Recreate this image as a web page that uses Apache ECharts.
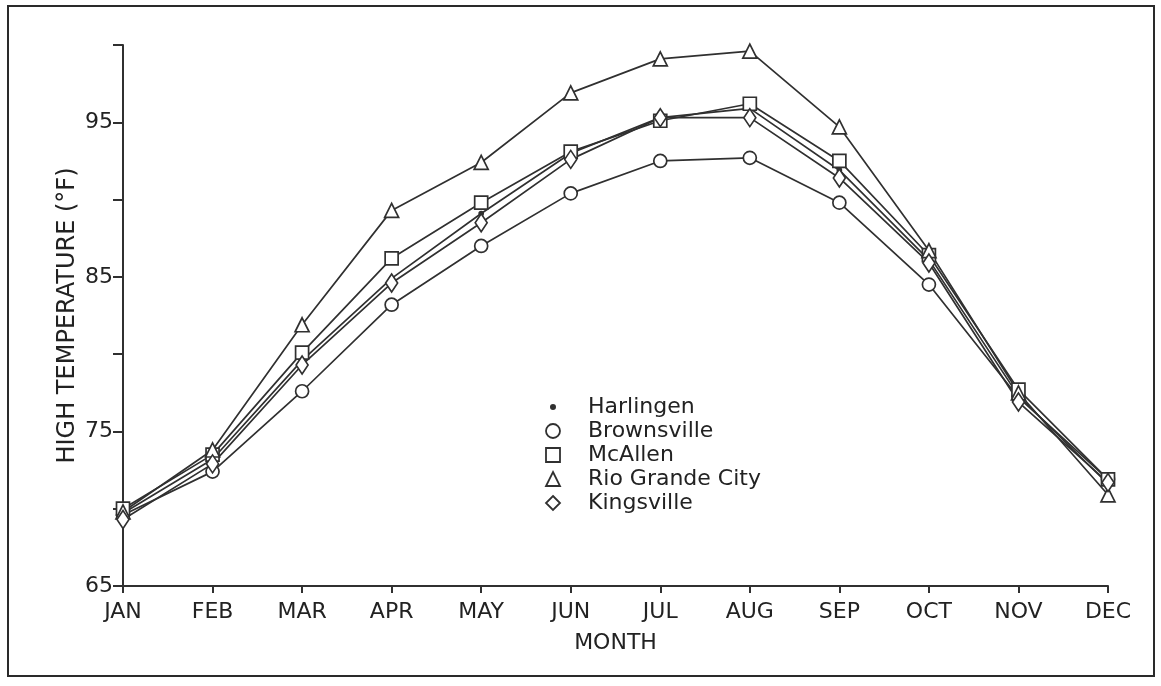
<!DOCTYPE html>
<html>
<head>
<meta charset="utf-8">
<script src="https://cdn.jsdelivr.net/npm/echarts@6/dist/echarts.min.js"></script>
<style>
  html, body { margin: 0; padding: 0; background: #fff; }
  #chart { width: 1161px; height: 686px; }
</style>
</head>
<body>
<div id="chart"></div>
<script>
// Monthly mean high temperatures (°F), South Texas stations
const months = ['JAN', 'FEB', 'MAR', 'APR', 'MAY', 'JUN', 'JUL', 'AUG', 'SEP', 'OCT', 'NOV', 'DEC'];
const harlingen      = [69.7, 73.2, 79.6, 84.9, 89.1, 93.0, 95.3, 95.9, 91.9, 86.1, 77.3, 71.6];
const brownsville    = [69.6, 72.4, 77.6, 83.2, 87.0, 90.4, 92.5, 92.7, 89.8, 84.5, 77.2, 71.9];
const mcallen        = [70.0, 73.5, 80.1, 86.2, 89.8, 93.1, 95.1, 96.2, 92.5, 86.4, 77.7, 71.9];
const rioGrandeCity  = [69.8, 73.8, 81.9, 89.3, 92.4, 96.9, 99.1, 99.6, 94.7, 86.7, 77.5, 70.9];
const kingsville     = [69.3, 72.9, 79.3, 84.6, 88.5, 92.6, 95.3, 95.3, 91.4, 85.9, 76.9, 71.7];
const yTickLabels = [65, 75, 85, 95];

const INK = '#303030';
const TEXT = '#222';
const FONT = '"DejaVu Sans", "Liberation Sans", sans-serif';

function station(name, values, symbol, size, filled) {
  return {
    name: name,
    type: 'line',
    data: values,
    symbol: symbol,
    symbolSize: size,
    showSymbol: true,
    z: 3,
    lineStyle: { color: INK, width: 1.7 },
    itemStyle: { color: filled ? INK : '#fff', borderColor: INK, borderWidth: 1.7 },
    emphasis: { disabled: true }
  };
}

const hollow = { color: '#fff', borderColor: INK, borderWidth: 1.8 };

const chart = echarts.init(document.getElementById('chart'), null, { renderer: 'canvas' });
chart.setOption({
  animation: false,
  backgroundColor: '#fff',
  graphic: [{
    type: 'rect',
    shape: { x: 8, y: 6, width: 1146, height: 670 },
    style: { fill: 'none', stroke: '#2a2a2a', lineWidth: 2 },
    silent: true
  }],
  grid: { left: 123, right: 53, top: 45, bottom: 100 },
  legend: {
    orient: 'vertical',
    left: 537,
    top: 391,
    itemWidth: 14,
    itemHeight: 14,
    itemGap: 2,
    textStyle: { fontFamily: FONT, fontSize: 22, color: TEXT, padding: [0, 0, 0, 23] },
    selectedMode: false,
    data: [
      { name: 'Harlingen', icon: 'circle', itemStyle: { color: INK, borderColor: '#fff', borderWidth: 8 } },
      { name: 'Brownsville', icon: 'circle', itemStyle: hollow },
      { name: 'McAllen', icon: 'rect', itemStyle: hollow },
      { name: 'Rio Grande City', icon: 'triangle', itemStyle: hollow },
      { name: 'Kingsville', icon: 'diamond', itemStyle: hollow }
    ]
  },
  xAxis: {
    type: 'category',
    data: months,
    boundaryGap: false,
    name: 'MONTH',
    nameLocation: 'middle',
    nameGap: 46,
    nameMoveOverlap: false,
    nameTextStyle: { fontFamily: FONT, fontSize: 22, color: TEXT },
    axisLine: { lineStyle: { color: INK, width: 2 } },
    axisTick: { alignWithLabel: true, length: 7, lineStyle: { color: INK, width: 2 } },
    axisLabel: { fontFamily: FONT, fontSize: 22, color: TEXT, margin: 15 },
    splitLine: { show: false }
  },
  yAxis: {
    type: 'value',
    min: 65,
    max: 100,
    interval: 5,
    name: 'HIGH TEMPERATURE (°F)',
    nameLocation: 'middle',
    nameGap: 43,
    nameMoveOverlap: false,
    nameTextStyle: { fontFamily: FONT, fontSize: 24, color: TEXT },
    axisLine: { show: true, lineStyle: { color: INK, width: 2 } },
    axisTick: { show: true, length: 10, lineStyle: { color: INK, width: 2 } },
    axisLabel: {
      fontFamily: FONT, fontSize: 22, color: TEXT, margin: 10,
      formatter: v => (yTickLabels.indexOf(v) >= 0 ? String(v) : '')
    },
    splitLine: { show: false }
  },
  series: [
    station('Harlingen', harlingen, 'circle', 4, true),
    station('Brownsville', brownsville, 'circle', 13, false),
    station('McAllen', mcallen, 'rect', 13, false),
    station('Rio Grande City', rioGrandeCity, 'triangle', 14, false),
    station('Kingsville', kingsville, 'diamond', [12, 18], false)
  ]
});
</script>
</body>
</html>
